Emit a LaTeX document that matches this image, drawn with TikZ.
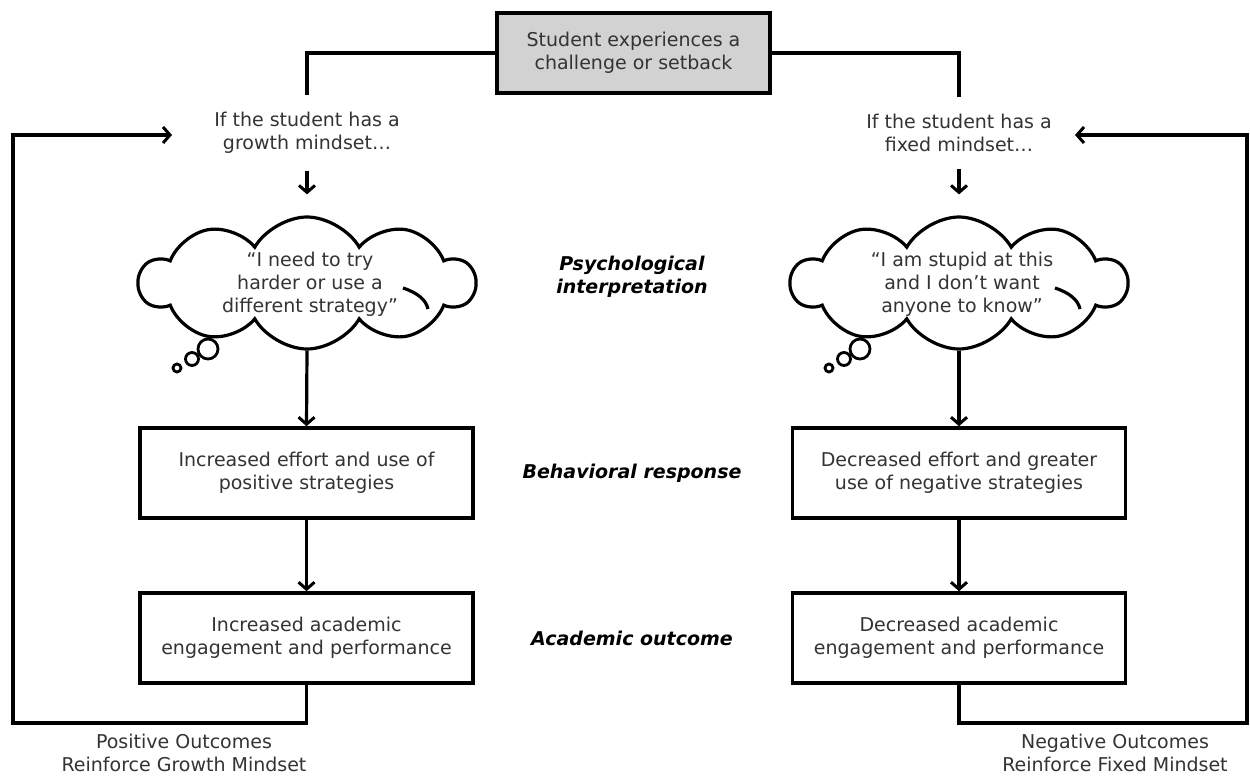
\documentclass[tikz,border=0pt]{standalone}
\usepackage{fontspec}
\setmainfont{DejaVu Sans}
\usetikzlibrary{arrows.meta,shapes.symbols}
\definecolor{txt}{HTML}{333333}
\definecolor{topfill}{HTML}{D2D2D2}
\tikzset{
  every picture/.style={x=1pt,y=-1pt},
  conn/.style={line width=3.2pt,line join=miter},
  arr/.style={conn,-{Straight Barb[length=7pt,width=16pt,line width=3pt]}},
  box/.style={draw,line width=3.6pt,rectangle,minimum width=333pt,minimum height=90pt,
    align=center,font=\fontsize{19}{23}\selectfont,text=txt,inner sep=0pt},
  plain/.style={align=center,font=\fontsize{19}{23}\selectfont,text=txt,inner sep=0pt},
  stage/.style={align=center,font=\fontsize{19}{23}\selectfont\bfseries\itshape,text=black,inner sep=0pt},
  thought/.style={draw,cloud,cloud puffs=10,cloud puff arc=120,aspect=2.6,line width=3.2pt,
    minimum width=335pt,minimum height=132pt,inner sep=0pt},
  bubble/.style={draw,circle,line width=2.8pt,inner sep=0pt},
}
\begin{document}
\begin{tikzpicture}
\useasboundingbox (0,0) rectangle (1250,776);
% top box
\node[box,fill=topfill,minimum width=273pt,minimum height=80pt] (top) at (633.5,53)
  {Student experiences a\\challenge or setback};
% question texts
\node[plain,inner ysep=17pt] (gq) at (307,133) {If the student has a\\growth mindset…};
\node[plain,inner ysep=17pt] (fq) at (959,133) {If the student has a\\fixed mindset…};
% clouds
\node[thought] (gcloud) at (307,283) {};
\node[plain] (gthought) at (310,284) {“I need to try\\harder or use a\\different strategy”};
\node[thought] (fcloud) at (959,283) {};
\node[plain] (fthought) at (962,284) {“I am stupid at this\\and I don’t want\\anyone to know”};
\draw[conn] (403,288) .. controls (418,293) and (426,300) .. (428,309);
\draw[conn] (1055,288) .. controls (1070,293) and (1078,300) .. (1080,309);
% thought bubbles
\node[bubble,minimum size=20pt] (gb1) at (208,349) {};
\node[bubble,minimum size=13pt] (gb2) at (192,359) {};
\node[bubble,minimum size=8pt] (gb3) at (177,368) {};
\node[bubble,minimum size=20pt] (fb1) at (860,349) {};
\node[bubble,minimum size=13pt] (fb2) at (844,359) {};
\node[bubble,minimum size=8pt] (fb3) at (829,368) {};
% boxes
\node[box] (gbeh) at (306.5,473) {Increased effort and use of\\positive strategies};
\node[box] (fbeh) at (959,473) {Decreased effort and greater\\use of negative strategies};
\node[box] (gacad) at (306.5,638) {Increased academic\\engagement and performance};
\node[box] (facad) at (959,638) {Decreased academic\\engagement and performance};
% stage labels
\node[stage] (lpsy) at (632,277) {Psychological\\interpretation};
\node[stage] (lbeh) at (632,473) {Behavioral response};
\node[stage] (lacad) at (632,638) {Academic outcome};
% outcome labels
\node[plain] (posout) at (184,753) {Positive Outcomes\\Reinforce Growth Mindset};
\node[plain] (negout) at (1115,753) {Negative Outcomes\\Reinforce Fixed Mindset};
% coordinates
\coordinate (gl1) at (13,723);
\coordinate (gl2) at (13,135);
\coordinate (gtip) at (172,135);
\coordinate (fl1) at (1247,723);
\coordinate (fl2) at (1247,135);
\coordinate (ftip) at (1075,135);
% connectors
\draw[conn] (top.west |- 0,53) -| (gq.north);
\draw[conn] (top.east |- 0,53) -| (fq.north);
\draw[arr,shorten >=21pt] (gq.south) -- (gcloud.north);
\draw[arr,shorten >=21pt] (fq.south) -- (fcloud.north);
\draw[arr] (gcloud.south) -- (gbeh.north);
\draw[arr] (fcloud.south) -- (fbeh.north);
\draw[arr] (gbeh.south) -- (gacad.north);
\draw[arr] (fbeh.south) -- (facad.north);
\draw[arr] (gacad.south) |- (gl1) -- (gl2) -- (gtip);
\draw[arr] (facad.south) |- (fl1) -- (fl2) -- (ftip);
\end{tikzpicture}
\end{document}
